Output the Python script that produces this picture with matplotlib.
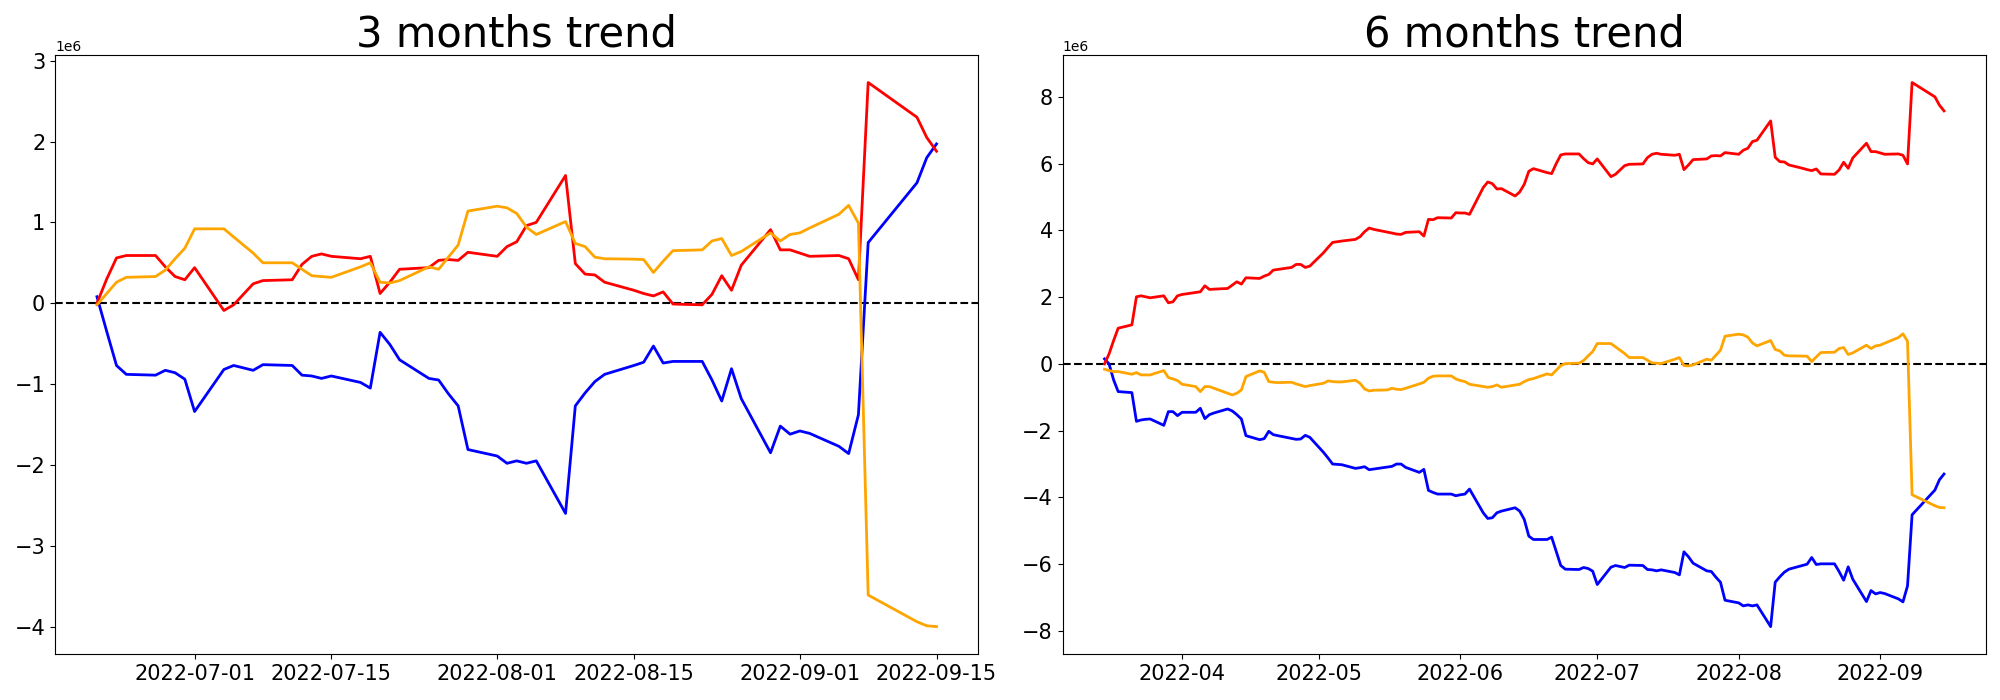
import matplotlib
matplotlib.use("Agg")
import matplotlib.pyplot as plt
import numpy as np
import pandas as pd

# ---------------- 3 months data (values in millions) ----------------
dates_3m = ['2022-06-21', '2022-06-22', '2022-06-23', '2022-06-24', '2022-06-27', '2022-06-28',
            '2022-06-29', '2022-06-30', '2022-07-01', '2022-07-04', '2022-07-05', '2022-07-06',
            '2022-07-07', '2022-07-08', '2022-07-11', '2022-07-12', '2022-07-13', '2022-07-14',
            '2022-07-15', '2022-07-18', '2022-07-19', '2022-07-20', '2022-07-21', '2022-07-22',
            '2022-07-25', '2022-07-26', '2022-07-27', '2022-07-28', '2022-07-29', '2022-08-01',
            '2022-08-02', '2022-08-03', '2022-08-04', '2022-08-05', '2022-08-08', '2022-08-09',
            '2022-08-10', '2022-08-11', '2022-08-12', '2022-08-15', '2022-08-16', '2022-08-17',
            '2022-08-18', '2022-08-19', '2022-08-22', '2022-08-23', '2022-08-24', '2022-08-25',
            '2022-08-26', '2022-08-29', '2022-08-30', '2022-08-31', '2022-09-01', '2022-09-02',
            '2022-09-05', '2022-09-06', '2022-09-07', '2022-09-08', '2022-09-13', '2022-09-14',
            '2022-09-15']

red_3m = [0.00, 0.30, 0.56, 0.59, 0.59, 0.45, 0.33, 0.29,
          0.44, -0.09, -0.02, 0.11, 0.24, 0.28, 0.29, 0.48, 0.58, 0.61, 0.58, 0.55, 0.58, 0.12,
          0.26, 0.42, 0.44, 0.53, 0.54, 0.53, 0.63,
          0.58, 0.70, 0.76, 0.96, 1.00, 1.58, 0.49, 0.36, 0.35, 0.26, 0.16, 0.12, 0.09, 0.14,
          -0.01, -0.02, 0.11, 0.34, 0.16, 0.47, 0.91, 0.66, 0.66,
          0.62, 0.58, 0.59, 0.55, 0.29, 2.73, 2.30, 2.05, 1.88]

orange_3m = [-0.02, 0.12, 0.26, 0.32, 0.33, 0.41, 0.55, 0.68,
             0.92, 0.92, 0.82, 0.72, 0.62, 0.50, 0.50, 0.42, 0.34, 0.33, 0.32, 0.45, 0.50, 0.26,
             0.25, 0.28, 0.45, 0.42, 0.57, 0.72, 1.14,
             1.20, 1.18, 1.11, 0.94, 0.85, 1.01, 0.74, 0.70, 0.57, 0.55, 0.545, 0.54, 0.38, 0.52,
             0.65, 0.66, 0.77, 0.80, 0.59, 0.64, 0.87, 0.77, 0.85,
             0.87, 0.93, 1.10, 1.21, 0.99, -3.61, -3.94, -3.99, -4.00]

blue_3m = [0.08, -0.35, -0.77, -0.88, -0.89, -0.83, -0.86, -0.94,
           -1.34, -0.82, -0.77, -0.80, -0.83, -0.76, -0.77, -0.89, -0.90, -0.93, -0.90, -0.98,
           -1.05, -0.36, -0.51, -0.70, -0.93, -0.95, -1.12, -1.27, -1.81,
           -1.89, -1.98, -1.95, -1.98, -1.95, -2.60, -1.27, -1.11, -0.97, -0.88, -0.77, -0.73,
           -0.53, -0.74, -0.72, -0.72, -0.95, -1.21, -0.81, -1.18, -1.85, -1.52, -1.62,
           -1.58, -1.61, -1.77, -1.86, -1.38, 0.75, 1.49, 1.80, 1.97]

# ---------------- 6 months data (values in millions) ----------------
dates_6m_early = ['2022-03-15', '2022-03-16', '2022-03-17', '2022-03-18', '2022-03-21', '2022-03-22',
                  '2022-03-23', '2022-03-24', '2022-03-25', '2022-03-28', '2022-03-29', '2022-03-30',
                  '2022-03-31', '2022-04-01', '2022-04-04', '2022-04-05', '2022-04-06', '2022-04-07',
                  '2022-04-08', '2022-04-11', '2022-04-12', '2022-04-13', '2022-04-14', '2022-04-15',
                  '2022-04-18', '2022-04-19', '2022-04-20', '2022-04-21', '2022-04-22', '2022-04-25',
                  '2022-04-26', '2022-04-27', '2022-04-28', '2022-04-29', '2022-05-02', '2022-05-03',
                  '2022-05-04', '2022-05-05', '2022-05-06', '2022-05-09', '2022-05-10', '2022-05-11',
                  '2022-05-12', '2022-05-13', '2022-05-16', '2022-05-17', '2022-05-18', '2022-05-19',
                  '2022-05-20', '2022-05-23', '2022-05-24', '2022-05-25', '2022-05-26', '2022-05-27',
                  '2022-05-30', '2022-05-31', '2022-06-01', '2022-06-02', '2022-06-03', '2022-06-06',
                  '2022-06-07', '2022-06-08', '2022-06-09', '2022-06-10', '2022-06-13', '2022-06-14',
                  '2022-06-15', '2022-06-16', '2022-06-17', '2022-06-20']
dates_6m = dates_6m_early + dates_3m

red_6m = [0.00, 0.30, 0.70, 1.07, 1.17, 2.01, 2.04, 2.01, 1.98, 2.04, 1.83, 1.86, 2.04,
          2.08, 2.14, 2.16, 2.34, 2.23, 2.24, 2.26, 2.36, 2.46, 2.39, 2.58, 2.56, 2.63, 2.68,
          2.81, 2.83, 2.89, 2.98, 2.98, 2.89, 2.93,
          3.33, 3.49, 3.64, 3.66, 3.68, 3.73, 3.81, 3.96, 4.07, 4.03, 3.95, 3.92, 3.89, 3.88,
          3.94, 3.96, 3.83, 4.33, 4.32, 4.38, 4.37, 4.53,
          4.52, 4.52, 4.48, 5.28, 5.45, 5.40, 5.24, 5.25, 5.03, 5.15, 5.38, 5.77, 5.85, 5.73,
          5.70, 6.00, 6.26, 6.29, 6.29, 6.15, 6.03, 5.99,
          6.14, 5.61, 5.68, 5.81, 5.94, 5.98, 5.99, 6.18, 6.28, 6.31, 6.28, 6.25, 6.28, 5.82,
          5.96, 6.12, 6.14, 6.23, 6.24, 6.23, 6.33,
          6.28, 6.40, 6.46, 6.66, 6.70, 7.28, 6.19, 6.06, 6.05, 5.96, 5.86, 5.82, 5.79, 5.84,
          5.69, 5.68, 5.81, 6.04, 5.86, 6.17, 6.61, 6.36, 6.36,
          6.32, 6.28, 6.29, 6.25, 5.99, 8.43, 8.00, 7.75, 7.58]

orange_6m = [-0.16, -0.20, -0.23, -0.23, -0.31, -0.26, -0.33, -0.33, -0.33, -0.20, -0.41, -0.45, -0.50,
             -0.61, -0.68, -0.83, -0.68, -0.68, -0.73, -0.88, -0.93, -0.88, -0.78, -0.38, -0.21,
             -0.25, -0.53, -0.55, -0.56, -0.55, -0.60, -0.64, -0.68, -0.65,
             -0.58, -0.51, -0.53, -0.54, -0.54, -0.49, -0.58, -0.75, -0.81, -0.79, -0.78, -0.73,
             -0.76, -0.77, -0.73, -0.60, -0.55, -0.43, -0.37, -0.36, -0.36, -0.45,
             -0.50, -0.53, -0.61, -0.68, -0.70, -0.68, -0.63, -0.70, -0.63, -0.61, -0.53, -0.47,
             -0.44, -0.30,
             -0.33, -0.19, -0.05, 0.01, 0.02, 0.10, 0.24, 0.37,
             0.61, 0.61, 0.51, 0.41, 0.31, 0.19, 0.19, 0.11, 0.03, 0.02, 0.01, 0.14, 0.19, -0.05,
             -0.06, -0.03, 0.14, 0.11, 0.26, 0.41, 0.83,
             0.89, 0.87, 0.80, 0.63, 0.54, 0.70, 0.43, 0.39, 0.26, 0.24, 0.235, 0.23, 0.07, 0.21,
             0.34, 0.35, 0.46, 0.49, 0.28, 0.33, 0.56, 0.46, 0.54,
             0.56, 0.62, 0.79, 0.90, 0.68, -3.92, -4.25, -4.30, -4.31]

blue_6m = [0.15, 0.00, -0.48, -0.83, -0.86, -1.72, -1.68, -1.66, -1.65, -1.84, -1.43, -1.43, -1.55,
           -1.45, -1.45, -1.33, -1.64, -1.52, -1.47, -1.35, -1.41, -1.52, -1.65, -2.15, -2.27,
           -2.24, -2.02, -2.12, -2.15, -2.23, -2.26, -2.25, -2.14, -2.20,
           -2.65, -2.82, -3.00, -3.01, -3.02, -3.13, -3.11, -3.08, -3.17, -3.15, -3.09, -3.07,
           -3.00, -3.00, -3.10, -3.25, -3.16, -3.79, -3.85, -3.90, -3.90, -3.95,
           -3.92, -3.90, -3.75, -4.46, -4.63, -4.61, -4.46, -4.41, -4.31, -4.41, -4.66, -5.16,
           -5.26, -5.26,
           -5.19, -5.62, -6.04, -6.15, -6.16, -6.10, -6.13, -6.21,
           -6.61, -6.09, -6.04, -6.07, -6.10, -6.03, -6.04, -6.16, -6.17, -6.20, -6.17, -6.25,
           -6.32, -5.63, -5.78, -5.97, -6.20, -6.22, -6.39, -6.54, -7.08,
           -7.16, -7.25, -7.22, -7.25, -7.22, -7.87, -6.54, -6.38, -6.24, -6.15, -6.04, -6.00,
           -5.80, -6.01, -5.99, -5.99, -6.22, -6.48, -6.08, -6.45, -7.12, -6.79, -6.89,
           -6.85, -6.88, -7.04, -7.13, -6.65, -4.52, -3.78, -3.47, -3.30]

titles = ['3 months trend', '6 months trend']
SCALE = 1e6

panels = [
    (dates_3m, red_3m, orange_3m, blue_3m),
    (dates_6m, red_6m, orange_6m, blue_6m),
]

fig, axes = plt.subplots(1, 2, figsize=(20, 7), dpi=100)
fig.subplots_adjust(left=0.0275, right=0.993, bottom=0.066, top=0.921, wspace=0.091)

for ax, title, (d, r, o, b) in zip(axes, titles, panels):
    x = pd.to_datetime(d)
    ax.axhline(0, color='black', linestyle='--', lw=1.5)
    ax.plot(x, np.array(b) * SCALE, color='blue', lw=2)
    ax.plot(x, np.array(r) * SCALE, color='red', lw=2)
    ax.plot(x, np.array(o) * SCALE, color='orange', lw=2)
    ax.set_title(title, fontsize=30)
    ax.tick_params(axis='both', labelsize=15)

fig.savefig('out.png', dpi=100)
